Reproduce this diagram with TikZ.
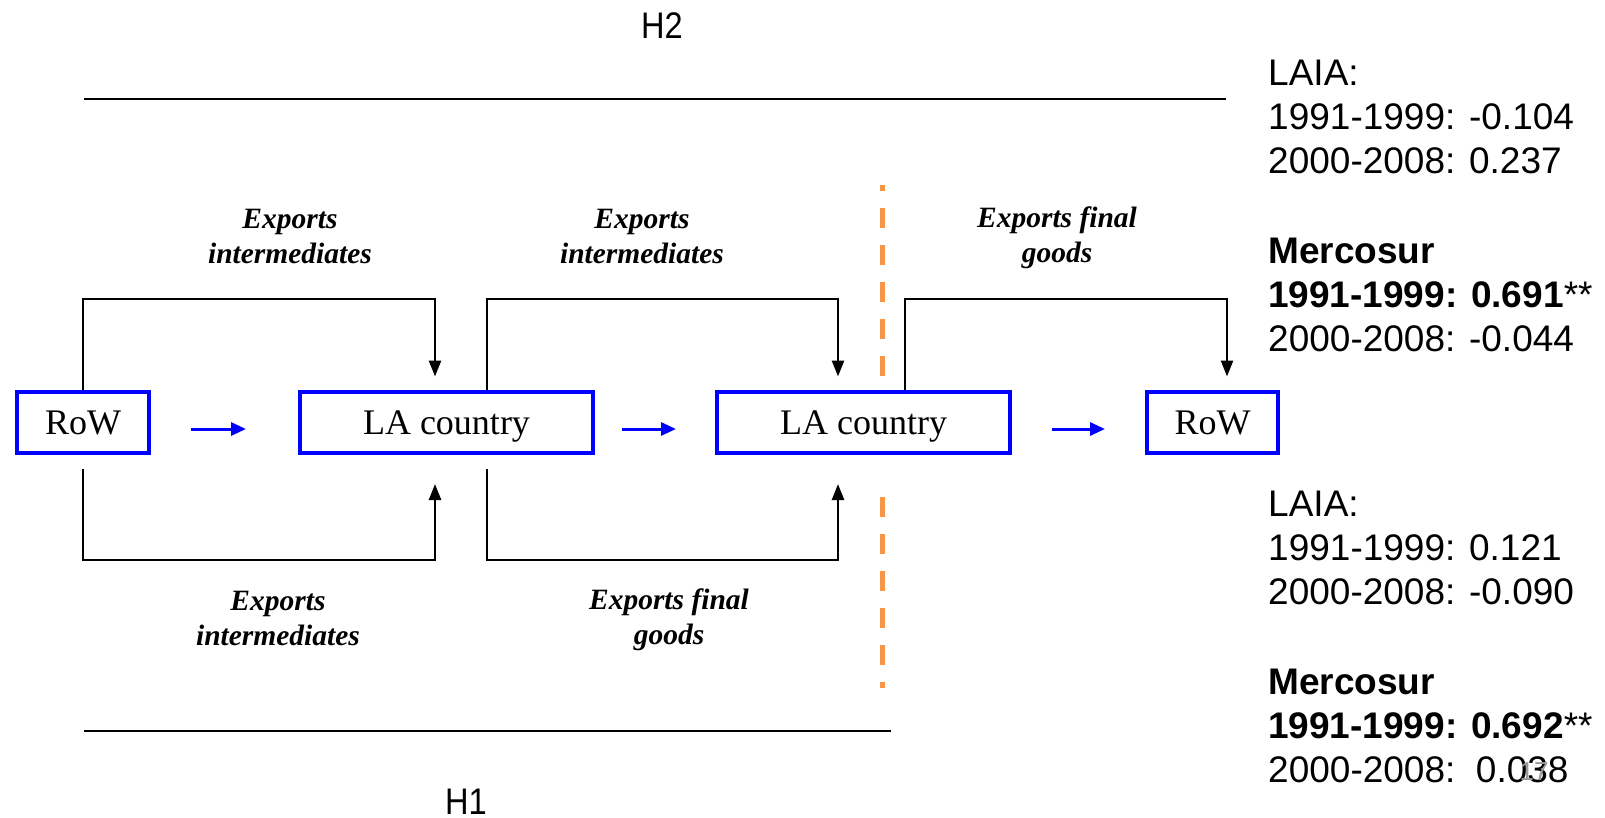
\documentclass[tikz,border=0pt]{standalone}
\usepackage{fontspec}
\setmainfont{Liberation Serif}
\newfontfamily\arialf{Liberation Sans}
\newfontfamily\arialn[FakeStretch=0.88]{Liberation Sans}
\usetikzlibrary{arrows.meta}
\definecolor{dashorange}{HTML}{F79646}
\tikzset{
  box/.style={draw=blue, line width=4pt, fill=white, inner sep=0pt, minimum height=61pt,
    text height=29pt, text depth=4pt, font=\fontsize{36}{40}\selectfont},
  conn/.style={line width=2.5pt, -{Triangle[length=16pt,width=12pt]}},
  flow/.style={blue, line width=3pt, -{Triangle[length=15pt,width=13pt]}},
  lbl/.style={font=\fontsize{29.5}{35}\selectfont\bfseries\itshape, align=center, inner sep=0pt},
  stat/.style={anchor=base west, inner sep=0pt, font=\arialf\fontsize{37}{44}\selectfont},
  hlab/.style={inner sep=0pt, font=\arialn\fontsize{37}{40}\selectfont},
  sep/.style={line width=2pt},
  cut/.style={dashorange, line width=5pt, dash pattern=on 20pt off 17pt}
}
\begin{document}
\begin{tikzpicture}[x=1pt,y=-1pt]
\useasboundingbox (0,0) rectangle (1605,817);

% boxes
\node[box, minimum width=132pt] (row1) at (83,422) {RoW};
\node[box, minimum width=293pt] (la1) at (446.5,422) {LA country};
\node[box, minimum width=293pt] (la2) at (863.5,422) {LA country};
\node[box, minimum width=131pt] (row2) at (1212.5,422) {RoW};

% blue flow arrows
\draw[flow, shorten <=40pt, shorten >=52pt] ([yshift=-7pt]row1.east) -- ([yshift=-7pt]la1.west);
\draw[flow, shorten <=27pt, shorten >=39pt] ([yshift=-7pt]la1.east) -- ([yshift=-7pt]la2.west);
\draw[flow, shorten <=40pt, shorten >=40pt] ([yshift=-7pt]la2.east) -- ([yshift=-7pt]row2.west);

% top connectors
\draw[conn, shorten >=13pt] (row1.north) -- ++(0,-90.5) -| ([xshift=-11.5pt]la1.north);
\draw[conn, shorten >=13pt] ([xshift=40.5pt]la1.north) -- ++(0,-90.5) -| ([xshift=-25.5pt]la2.north);
\draw[conn, shorten >=13pt] ([xshift=41.5pt]la2.north) -- ++(0,-90.5) -| ([xshift=14.5pt]row2.north);

% bottom connectors
\draw[conn, shorten <=14.5pt, shorten >=29.5pt] (row1.south) -- ++(0,105.5) -| ([xshift=-11.5pt]la1.south);
\draw[conn, shorten <=14.5pt, shorten >=29.5pt] ([xshift=40.5pt]la1.south) -- ++(0,105.5) -| ([xshift=-25.5pt]la2.south);

% labels
\node[lbl] (l1) at (290,236) {Exports\\intermediates};
\node[lbl] (l2) at (642,236) {Exports\\intermediates};
\node[lbl] (l3) at (1057,238) {Exports final\\goods};
\node[lbl] (l4) at (278,618) {Exports\\intermediates};
\node[lbl] (l5) at (669,620) {Exports final\\goods};

% orange cut line
\coordinate (c1) at (882,376);
\coordinate (c2) at (882,185);
\coordinate (c3) at (882,497);
\coordinate (c4) at (882,688);
\draw[cut] (c1) -- (c2);
\draw[cut] (c3) -- (c4);

% horizontal separators
\coordinate (t1) at (84,99);
\coordinate (t2) at (1226,99);
\coordinate (b1) at (84,731);
\coordinate (b2) at (891,731);
\draw[sep] (t1) -- (t2);
\draw[sep] (b1) -- (b2);

\node[hlab] (h2) at (662,26) {H2};
\node[hlab, anchor=base] (h1) at (466,814) {H1};

% statistics
\node[stat] (s1) at (1268,85) {LAIA:};
\node[stat] (s2) at (1268,129) {1991-1999: -0.104};
\node[stat] (s3) at (1268,173) {2000-2008: 0.237};
\node[stat] (s4) at (1268,263) {\bfseries Mercosur};
\node[stat] (s5) at (1268,307) {{\bfseries 1991-1999: 0.691}**};
\node[stat] (s6) at (1268,351) {2000-2008: -0.044};
\node[stat] (s7) at (1268,516) {LAIA:};
\node[stat] (s8) at (1268,560) {1991-1999: 0.121};
\node[stat] (s9) at (1268,604) {2000-2008: -0.090};
\node[stat] (s10) at (1268,694) {\bfseries Mercosur};
\node[stat] (s11) at (1268,738) {{\bfseries 1991-1999: 0.692}**};
\node[stat] (s12) at (1268,782) {2000-2008:~~0.038};
\node[anchor=base, inner sep=0pt, text=black!40, font=\arialf\fontsize{26}{30}\selectfont] (pg) at (1534,780) {17};
\end{tikzpicture}
\end{document}
